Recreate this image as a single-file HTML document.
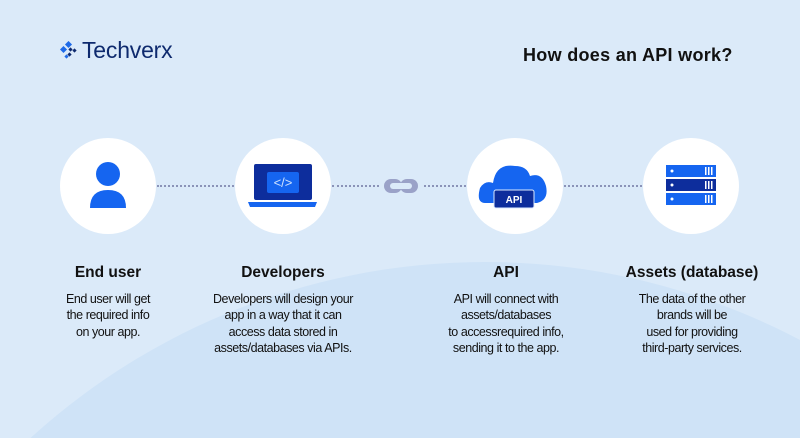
<!DOCTYPE html>
<html><head><style>
*{margin:0;padding:0}
html,body{width:800px;height:438px;overflow:hidden}
body{font-family:"Liberation Sans",sans-serif}
#w{position:relative;width:800px;height:438px;overflow:hidden;background:#dbeaf9}
.arc{position:absolute;left:-190px;top:262px;width:1350px;height:1350px;border-radius:50%;background:#cfe3f7}
.c{position:absolute;width:96px;height:96px;border-radius:50%;background:#fff}
.t{position:absolute;width:200px;text-align:center;color:#111}
.t b{display:block;font-size:15.5px;margin-bottom:9px}
.t p{font-size:12.5px;line-height:16.3px;letter-spacing:-0.45px}
.dot{position:absolute;top:185px;border-top:2px dotted #8b93b8;height:0}
</style></head><body><div id="w">
<div class="arc"></div>
<svg style="position:absolute;left:60px;top:41px" width="20" height="20" viewBox="0 0 20 20">
<rect x="6" y="1" width="5" height="5" transform="rotate(45 8.5 3.5)" fill="#1e6ae8"/>
<rect x="1" y="6" width="5" height="5" transform="rotate(45 3.5 8.5)" fill="#1e6ae8"/>
<rect x="9" y="7" width="3" height="3" transform="rotate(45 10.5 8.5)" fill="#0e2a6e"/>
<rect x="13" y="8" width="3" height="3" transform="rotate(45 14.5 9.5)" fill="#0e2a6e"/>
<rect x="8" y="12" width="3" height="3" transform="rotate(45 9.5 13.5)" fill="#0e2a6e"/>
<rect x="5" y="14" width="3" height="3" transform="rotate(45 6.5 15.5)" fill="#1e6ae8"/>
</svg>
<div style="position:absolute;left:82px;top:37px;font-size:23px;color:#0e2a6e;letter-spacing:-0.2px">Techverx</div>
<div style="position:absolute;left:523px;top:45px;font-size:18px;font-weight:bold;color:#111;letter-spacing:0.3px">How does an API work?</div>

<div class="dot" style="left:157px;width:77px"></div>
<div class="dot" style="left:332px;width:47px"></div>
<div class="dot" style="left:424px;width:42px"></div>
<div class="dot" style="left:564px;width:78px"></div>

<div class="c" style="left:60px;top:138px"></div>
<div class="c" style="left:235px;top:138px"></div>
<div class="c" style="left:467px;top:138px"></div>
<div class="c" style="left:643px;top:138px"></div>

<svg style="position:absolute;left:0;top:0" width="800" height="260">
<circle cx="108" cy="174" r="12" fill="#1565f0"/>
<path d="M90 208 Q90 190 108 190 Q126 190 126 208 Z" fill="#1565f0"/>
<rect x="254" y="164" width="58" height="36" rx="2" fill="#0d2d9c"/>
<rect x="267" y="172" width="32" height="21" rx="2" fill="#1565f0"/>
<text x="283" y="187" font-size="13" fill="#cfe3ff" text-anchor="middle" font-family="Liberation Sans">&lt;/&gt;</text>
<path d="M248 202 H317 L315 207 H250 Z" fill="#1565f0"/>
<rect x="384" y="179" width="18" height="14" rx="7" fill="#9aa2c8"/>
<rect x="400" y="179" width="18" height="14" rx="7" fill="#9aa2c8"/>
<rect x="390" y="183" width="22" height="6" rx="3" fill="#dbeaf9"/>
<path d="M485 203 Q476 203 480 188 Q485 180 493 183 Q496 163 515 166 Q527 166 530 176 Q542 172 546 186 Q549 200 537 203 Z" fill="#1565f0"/>
<rect x="494" y="190" width="40" height="18" rx="2" fill="#0d2d9c" stroke="#dbeaff" stroke-width="1"/>
<text x="514" y="203" font-size="10" font-weight="bold" fill="#fff" text-anchor="middle" font-family="Liberation Sans">API</text>
<rect x="666" y="165" width="50" height="12" fill="#1565f0"/>
<rect x="666" y="179" width="50" height="12" fill="#0d2d9c"/>
<rect x="666" y="193" width="50" height="12" fill="#1565f0"/>
<g fill="#fff"><circle cx="672" cy="171" r="1.5"/><circle cx="672" cy="185" r="1.5"/><circle cx="672" cy="199" r="1.5"/>
<rect x="705" y="167" width="1.5" height="8"/><rect x="708" y="167" width="1.5" height="8"/><rect x="711" y="167" width="1.5" height="8"/>
<rect x="705" y="181" width="1.5" height="8"/><rect x="708" y="181" width="1.5" height="8"/><rect x="711" y="181" width="1.5" height="8"/>
<rect x="705" y="195" width="1.5" height="8"/><rect x="708" y="195" width="1.5" height="8"/><rect x="711" y="195" width="1.5" height="8"/></g>
</svg>

<div class="t" style="left:8px;top:264px"><b>End user</b><p>End user will get<br>the required info<br>on your app.</p></div>
<div class="t" style="left:183px;top:264px"><b>Developers</b><p>Developers will design your<br>app in a way that it can<br>access data stored in<br>assets/databases via APIs.</p></div>
<div class="t" style="left:406px;top:264px"><b>API</b><p>API will connect with<br>assets/databases<br>to accessrequired info,<br>sending it to the app.</p></div>
<div class="t" style="left:592px;top:264px"><b>Assets (database)</b><p>The data of the other<br>brands will be<br>used for providing<br>third-party services.</p></div>
</div></body></html>
